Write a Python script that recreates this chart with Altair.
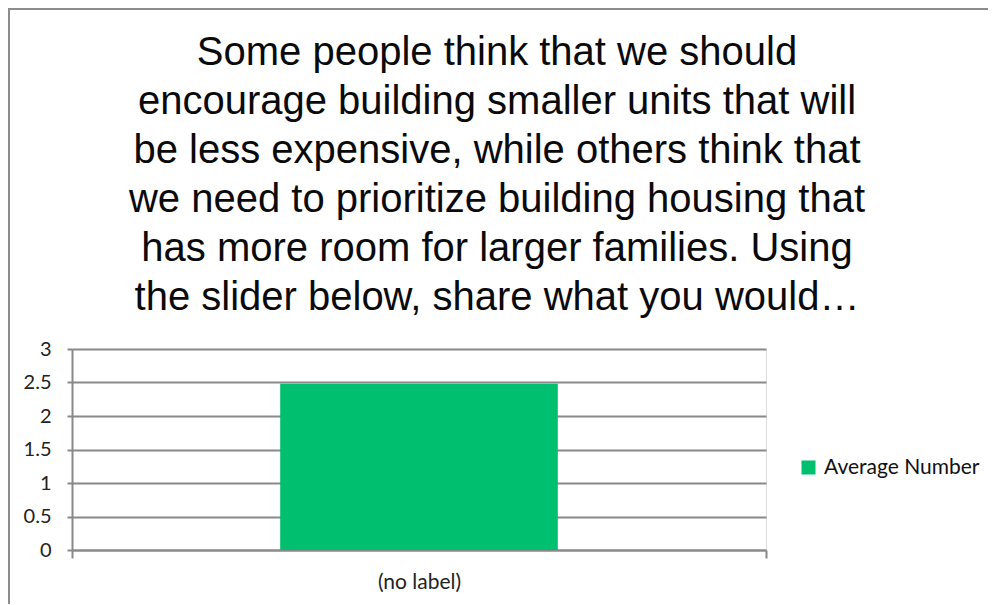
import altair as alt
import pandas as pd

categories = ["(no label)"]
values = [2.48]
series = ["Average Number"]
y_ticks = [0, 0.5, 1, 1.5, 2, 2.5, 3]
title_lines = [
    "Some people think that we should",
    "encourage building smaller units that will",
    "be less expensive, while others think that",
    "we need to prioritize building housing that",
    "has more room for larger families. Using",
    "the slider below, share what you would\u2026",
]

df = pd.DataFrame({"category": categories, "value": values, "series": series})

GRID = "#898989"

bars = alt.Chart(df).mark_bar(width=alt.RelativeBandSize(0.4)).encode(
    x=alt.X(
        "category:N",
        scale=alt.Scale(paddingInner=0, paddingOuter=0),
        axis=alt.Axis(
            title=None, labelAngle=0, tickBand="extent", tickSize=8,
            tickColor=GRID, tickWidth=2, domainColor=GRID, domainWidth=2,
            labelFont="Lato", labelFontSize=21, labelColor="#222222",
            labelPadding=13, grid=False,
        ),
    ),
    y=alt.Y(
        "value:Q",
        scale=alt.Scale(domain=[0, 3], nice=False),
        axis=alt.Axis(
            title=None, values=y_ticks, format="~g", tickSize=5,
            tickColor=GRID, tickWidth=2, domainColor=GRID, domainWidth=2,
            gridColor=GRID, gridWidth=2, labelFont="Lato", labelFontSize=20,
            labelColor="#222222", labelPadding=16,
        ),
    ),
    color=alt.Color(
        "series:N",
        scale=alt.Scale(range=["#00BF6F"]),
        legend=alt.Legend(
            title=None, orient="none", legendX=726, legendY=108,
            symbolType="square", symbolSize=196, symbolStrokeWidth=0,
            labelFont="Lato", labelFontSize=21, labelColor="#111111",
            labelOffset=5, padding=0,
        ),
    ),
)

title = alt.Chart(df).mark_text(
    align="center", baseline="alphabetic", font="Liberation Sans",
    fontSize=40, lineHeight=49, color="#0a0a0a",
).encode(x=alt.value(425), y=alt.value(-284), text=alt.value(title_lines))

frame_left = alt.Chart(df).mark_rule(color="#8c8c8c", strokeWidth=2).encode(
    x=alt.value(-63), y=alt.value(-341), y2=alt.value(256)
)
frame_top = alt.Chart(df).mark_rule(color="#8c8c8c", strokeWidth=2).encode(
    x=alt.value(-64), x2=alt.value(920), y=alt.value(-340)
)

chart = alt.layer(frame_left, frame_top, title, bars).properties(
    width=694,
    height=201,
    autosize=alt.AutoSizeParams(type="none"),
    padding={"left": 64, "top": 341, "right": 222, "bottom": 54},
).configure_view(stroke=None).configure(background="white")

chart.save("out.html", embed_options={"renderer": "svg", "actions": False})
